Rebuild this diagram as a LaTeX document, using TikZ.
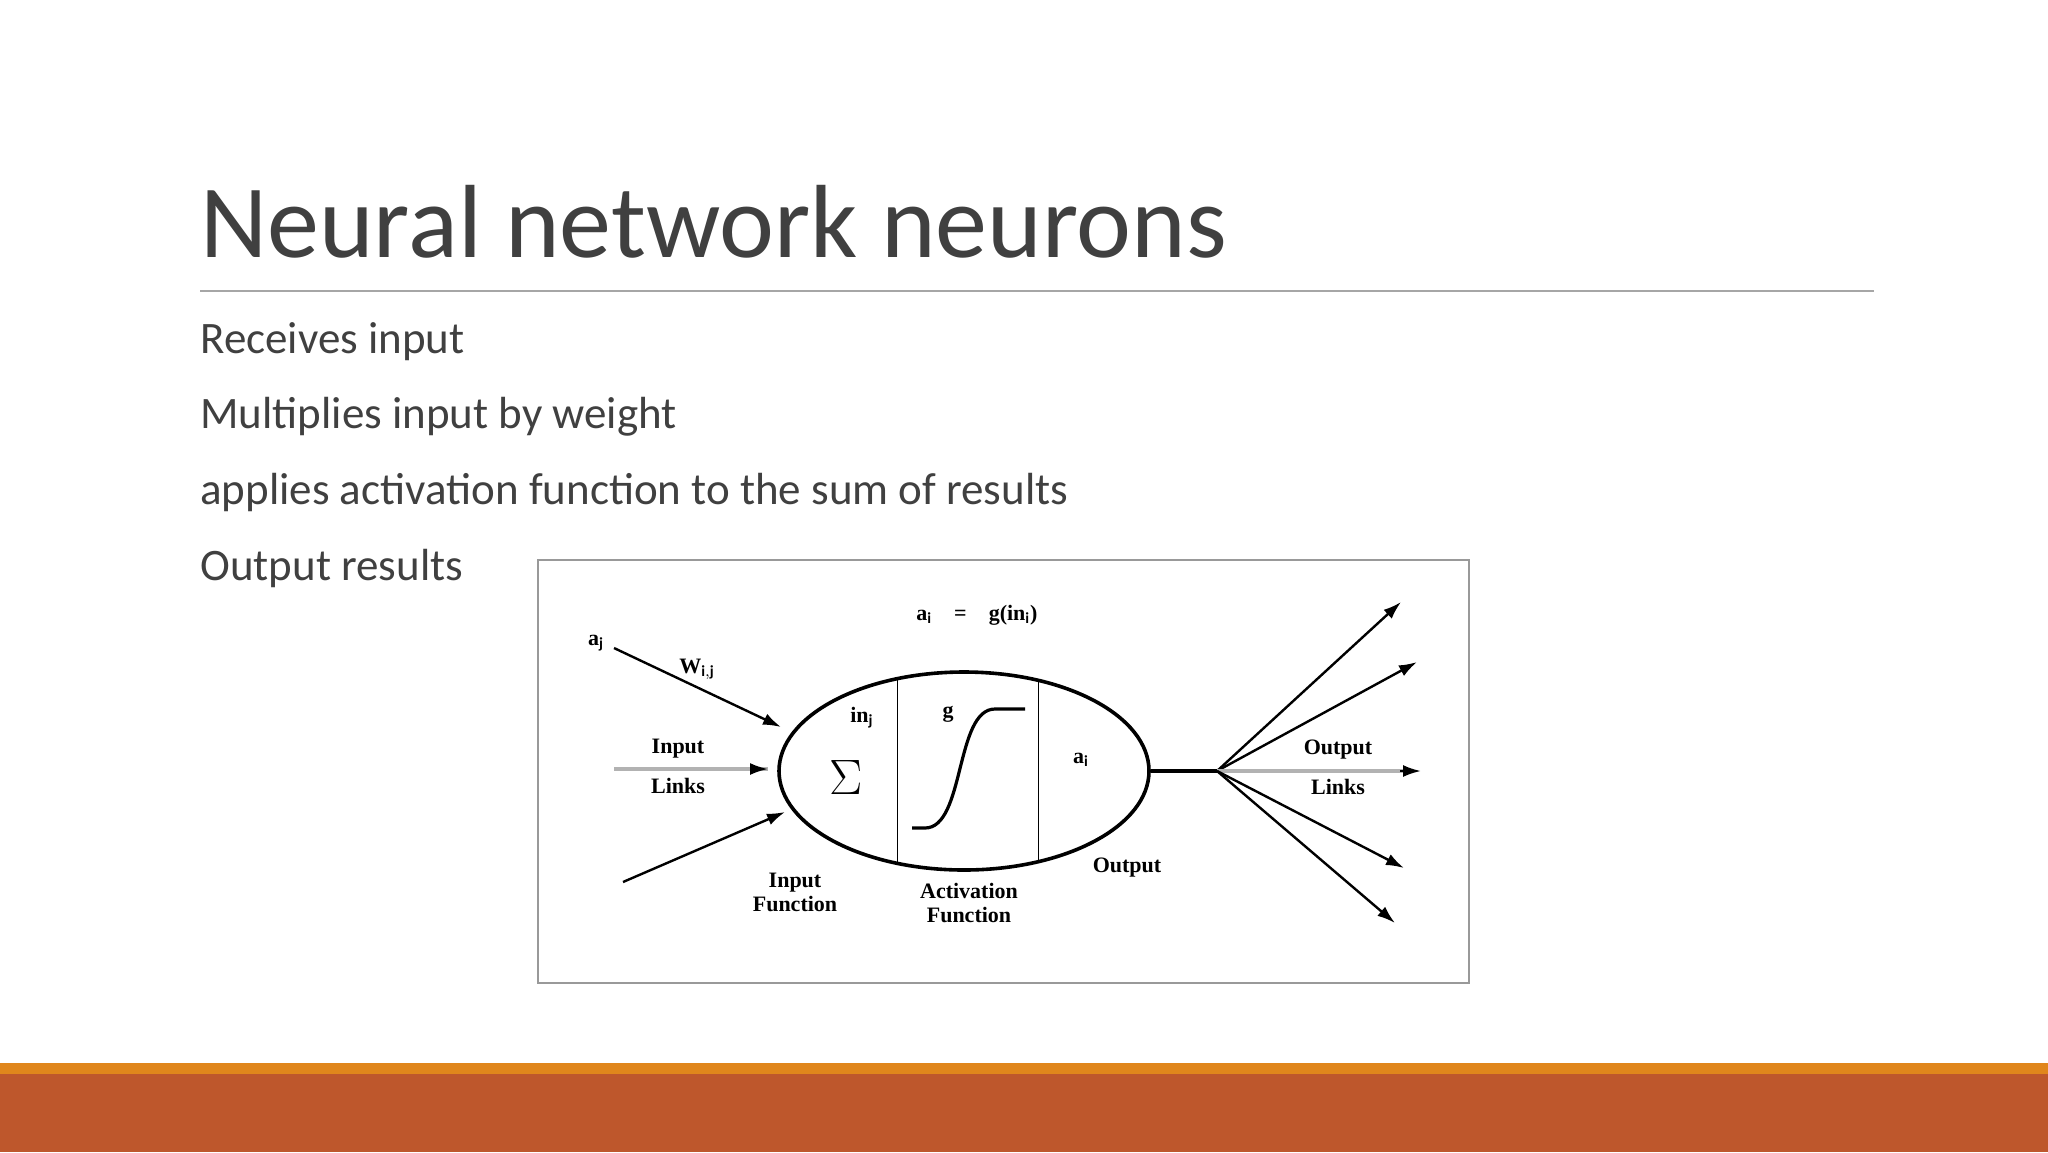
\documentclass[tikz,border=0pt]{standalone}
\usepackage{fontspec}
\setmainfont{Carlito}
\newfontfamily\tms{Liberation Serif}
\usetikzlibrary{arrows.meta,shapes.geometric,calc}
\definecolor{txt}{HTML}{404040}
\definecolor{barA}{HTML}{E0861C}
\definecolor{barB}{HTML}{BE572C}
\tikzset{
  lbl/.style={inner sep=0pt, font=\tms\bfseries\fontsize{11}{12}\selectfont, align=center},
  arr/.style={line width=1.2pt, -{Latex[length=9pt,width=6pt]}},
  bul/.style={anchor=base west, inner sep=0pt, text=txt, font=\fontsize{22.5}{26}\selectfont},
}
\begin{document}
\begin{tikzpicture}[x=0.5pt,y=-0.5pt]
\useasboundingbox (0,0) rectangle (2048,1152);
\fill[white] (0,0) rectangle (2048,1152);
\fill[barA] (0,1063) rectangle (2048,1074);
\fill[barB] (0,1074) rectangle (2048,1152);
\node[anchor=base west, inner sep=0pt, text=txt, font=\fontsize{52}{60}\selectfont] (title) at (200,257) {Neural network neurons};
\draw[gray!70, line width=0.8pt] (200,291) -- (1874,291);
\node[bul] (b1) at (200,353) {Receives input};
\node[bul] (b2) at (200,428) {Multiplies input by weight};
\node[bul] (b3) at (200,504) {applies activation function to the sum of results};
\node[bul] (b4) at (200,580) {Output results};
% diagram box
\draw[gray!80, line width=1pt] (538,560) rectangle (1469,983);
\node[draw, ellipse, minimum width=185pt, minimum height=99pt, line width=1.8pt, inner sep=0pt] (ell) at (964,771) {};
\draw[line width=0.5pt] (897,680) -- (897,862);
\draw[line width=0.5pt] (1038,680) -- (1038,862);
\node[inner sep=0pt, font=\fontsize{32}{34}\selectfont] (sig) at (846,777) {$\Sigma$};
\node[lbl] (inj) at (862,718) {in$_{\mathbf{j}}$};
\node[lbl] (g) at (948,714) {g};
\draw[line width=1.6pt] (912,828) -- (925,828) .. controls (965,828) and (955,709) .. (995,709) -- (1025,709);
\node[lbl] (ai) at (1081,760) {a$_{\mathbf{i}}$};
\node[lbl] (eq) at (977,615) {a$_{\mathbf{i}}$\quad=\quad g(in$_{\mathbf{i}}$)};
\node[lbl] (aj) at (596,643) {a$_{\mathbf{j}}$};
\node[lbl] (wij) at (697,669) {W$_{\mathbf{i,j}}$};
\coordinate (t1) at (614,648);
\coordinate (t2) at (768,769);
\coordinate (t3) at (623,882);
\coordinate (m1) at (614,769);
\draw[arr] (t1) -- (781,727);
\draw[line width=1.6pt, gray!60] (m1) -- (t2);
\draw[arr] ($(t2)+(-4,0)$) -- (t2);
\draw[arr] (t3) -- (785,812);
\node[lbl] (il) at (678,766) {Input\\[8pt]Links};
\node[lbl] (if) at (795,892) {Input\\Function};
\node[lbl] (af) at (969,903) {Activation\\Function};
\node[lbl] (out) at (1127,868) {Output};
\coordinate (hub) at (1217,771);
\draw[line width=1.6pt] (ell.east) -- (hub);
\draw[arr] (hub) -- (1401,602);
\draw[arr] (hub) -- (1417,662);
\draw[line width=1.6pt, gray!60] (hub) -- (1405,771);
\draw[arr] (1400,771) -- (1421,771);
\draw[arr] (hub) -- (1404,868);
\draw[arr] (hub) -- (1395,923);
\node[lbl] (ol) at (1338,767) {Output\\[8pt]Links};
\end{tikzpicture}
\end{document}
